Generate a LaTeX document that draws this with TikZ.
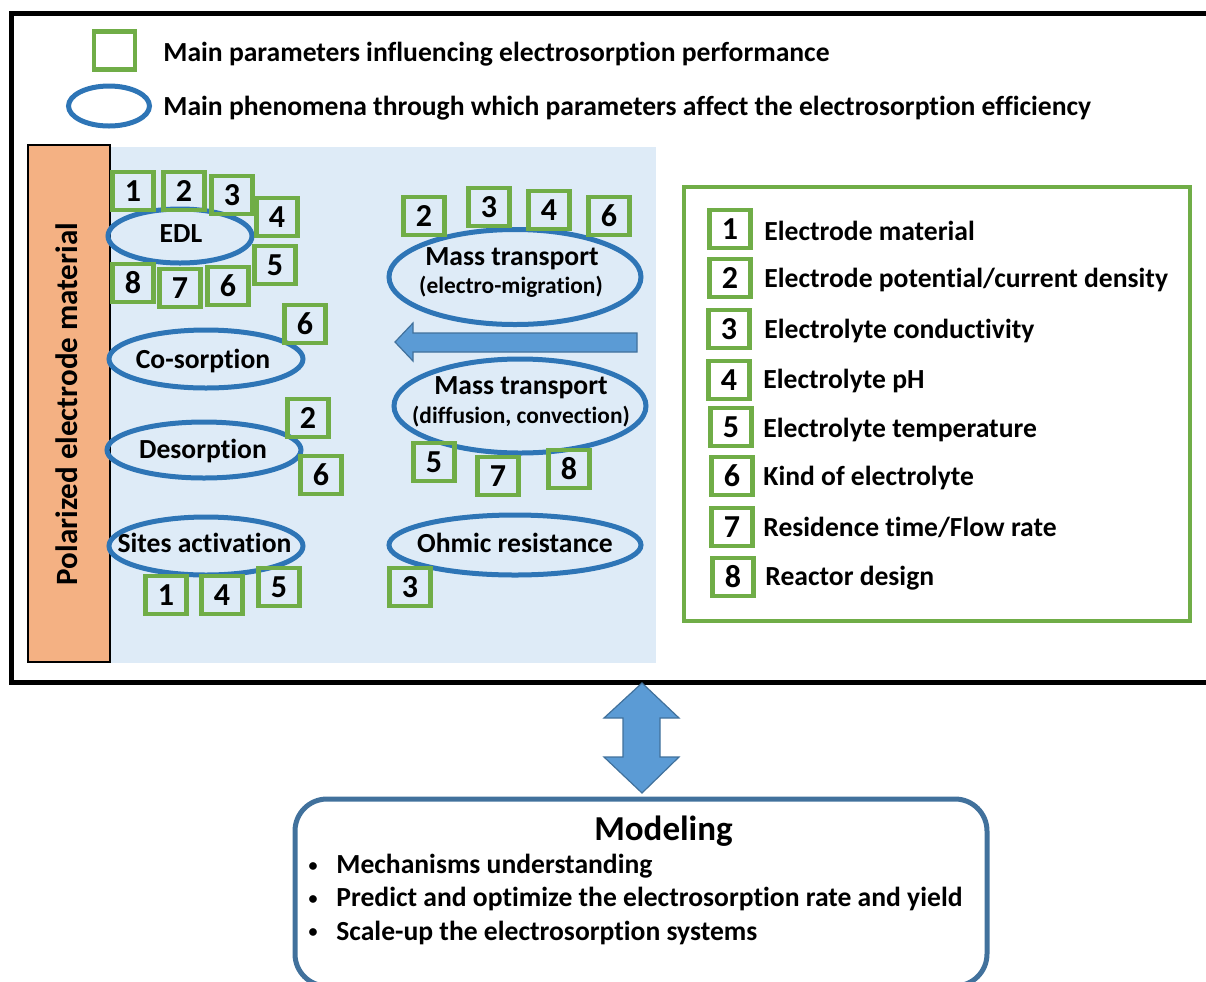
\documentclass[tikz,border=0pt]{standalone}
\usepackage{fontspec}
\setmainfont{Carlito}[Ligatures=NoCommon]
\usetikzlibrary{shapes.geometric}
\definecolor{pgreen}{HTML}{70AD47}
\definecolor{pblue}{HTML}{2E75B6}
\definecolor{arrblue}{HTML}{5B9BD5}
\definecolor{arrline}{HTML}{41719C}
\definecolor{panelblue}{HTML}{DEEBF7}
\definecolor{electrode}{HTML}{F4B183}
\begin{document}
\begin{tikzpicture}[x=0.5pt,y=-0.5pt,
  txt/.style={font=\fontsize{13.8}{16}\selectfont\bfseries,inner sep=0pt},
  subtxt/.style={font=\fontsize{11.7}{14}\selectfont\bfseries,inner sep=0pt},
  param/.style={draw=pgreen,line width=2.3pt,minimum width=20.5pt,minimum height=19pt,inner sep=0pt,font=\fontsize{16}{18}\selectfont\bfseries},
  phen/.style={ellipse,draw=pblue,line width=2.5pt,inner sep=0pt},
  blockarrow/.style={fill=arrblue,draw=arrline,line width=0.6pt}]

\useasboundingbox (0,0) rectangle (1206,981);

% outer frame
\draw[line width=2.5pt] (11.5,13.5) rectangle (1230,682);

% legend
\node[param] (legsq) at (114.5,50.5) {};
\node[txt,anchor=base west] (legsqt) at (163,61) {Main parameters influencing electrosorption performance};
\node[phen,minimum width=40.5pt,minimum height=20pt] (legel) at (109,106) {};
\node[txt,anchor=base west] (legelt) at (163,115) {Main phenomena through which parameters affect the electrosorption efficiency};

% electrode and solution
\fill[panelblue] (110,147) rectangle (656,663);
\filldraw[fill=electrode,draw=black,line width=0.8pt] (28,145) rectangle (110,662);
\node[font=\fontsize{15.5}{18}\selectfont\bfseries,inner sep=0pt,rotate=90,anchor=base] (electrode) at (77,404) {Polarized electrode material};

% phenomena
\node[phen,minimum width=72pt,minimum height=27pt] (edl) at (180,236) {};
\node[phen,minimum width=97pt,minimum height=29pt] (cosorp) at (206,359) {};
\node[phen,minimum width=97pt,minimum height=28pt] (desorp) at (204,450) {};
\node[phen,minimum width=97pt,minimum height=29pt] (sites) at (206,546) {};
\node[phen,minimum width=126pt,minimum height=47.5pt] (migr) at (515,277) {};
\node[phen,minimum width=126pt,minimum height=47pt] (diff) at (520,406) {};
\node[phen,minimum width=126pt,minimum height=30pt] (ohmic) at (515,545) {};

\node[txt,anchor=base] (edlt) at (181,242) {EDL};
\node[txt,anchor=base] (cosorpt) at (203,368) {Co-sorption};
\node[txt,anchor=base] (desorpt) at (203,458) {Desorption};
\node[txt,anchor=base] (sitest) at (204.5,552) {Sites activation};
\node[txt,anchor=base] (migrt) at (512,265) {Mass transport};
\node[subtxt,anchor=base] (migrs) at (511,293) {(electro-migration)};
\node[txt,anchor=base] (difft) at (521,394) {Mass transport};
\node[subtxt,anchor=base] (diffs) at (521,423) {(diffusion, convection)};
\node[txt,anchor=base] (ohmict) at (515,552) {Ohmic resistance};

% parameters around EDL
\node[param] (e1) at (133,191) {1};
\node[param] (e2) at (184,191) {2};
\node[param] (e3) at (232,195) {3};
\node[param] (e4) at (277,217) {4};
\node[param] (e5) at (275,265) {5};
\node[param] (e6) at (228,286) {6};
\node[param] (e7) at (180,288) {7};
\node[param] (e8) at (133,283) {8};

\node[param] (c6) at (305,324) {6};
\node[param] (d2) at (308,418) {2};
\node[param] (d6) at (321,475) {6};
\node[param] (s1) at (166,595) {1};
\node[param] (s4) at (222,595) {4};
\node[param] (s5) at (279,587) {5};

\node[param] (m2) at (424,216) {2};
\node[param] (m3) at (489,207) {3};
\node[param] (m4) at (549,210) {4};
\node[param] (m6) at (609,216) {6};
\node[param] (f5) at (434,462) {5};
\node[param] (f7) at (498,476) {7};
\node[param] (f8) at (569,469) {8};
\node[param] (o3) at (410,587) {3};

% transport towards electrode
\filldraw[blockarrow] (395,342) -- (413,323) -- (413,333) -- (637,333) -- (637,352) -- (413,352) -- (413,361) -- cycle;

% list of parameters
\draw[pgreen,line width=2pt] (684,187) rectangle (1190,621);
\node[param] (p1) at (730,229) {1};
\node[param] (p2) at (730,278) {2};
\node[param] (p3) at (729,329) {3};
\node[param] (p4) at (729,380) {4};
\node[param] (p5) at (731,427) {5};
\node[param] (p6) at (732,476) {6};
\node[param] (p7) at (732,527) {7};
\node[param] (p8) at (733,577) {8};
\node[txt,anchor=base west] (p1t) at (764,240) {Electrode material};
\node[txt,anchor=base west] (p2t) at (764,287) {Electrode potential/current density};
\node[txt,anchor=base west] (p3t) at (764,338) {Electrolyte conductivity};
\node[txt,anchor=base west] (p4t) at (763,388) {Electrolyte pH};
\node[txt,anchor=base west] (p5t) at (763,437) {Electrolyte temperature};
\node[txt,anchor=base west] (p6t) at (763,485) {Kind of electrolyte};
\node[txt,anchor=base west] (p7t) at (763,536) {Residence time/Flow rate};
\node[txt,anchor=base west] (p8t) at (765,585) {Reactor design};

% modeling
\filldraw[blockarrow] (642,683) -- (679,718) -- (660,718) -- (660,757) -- (679,757) -- (642,793) -- (604,757) -- (623,757) -- (623,718) -- (604,718) -- cycle;
\draw[arrline,line width=2.5pt,rounded corners=16pt] (295,799) rectangle (987,986);
\node[font=\fontsize{17.5}{20}\selectfont\bfseries,inner sep=0pt,anchor=base] (model) at (663.5,840) {Modeling};
\node[font=\fontsize{9}{10}\selectfont\bfseries,inner sep=0pt] (b1) at (313,867) {•};
\node[font=\fontsize{9}{10}\selectfont\bfseries,inner sep=0pt] (b2) at (313,900) {•};
\node[font=\fontsize{9}{10}\selectfont\bfseries,inner sep=0pt] (b3) at (313,933) {•};
\node[txt,anchor=base west] (m1t) at (336,873) {Mechanisms understanding};
\node[txt,anchor=base west] (m2t) at (336,906) {Predict and optimize the electrosorption rate and yield};
\node[txt,anchor=base west] (m3t) at (336,940) {Scale-up the electrosorption systems};

\end{tikzpicture}
\end{document}
